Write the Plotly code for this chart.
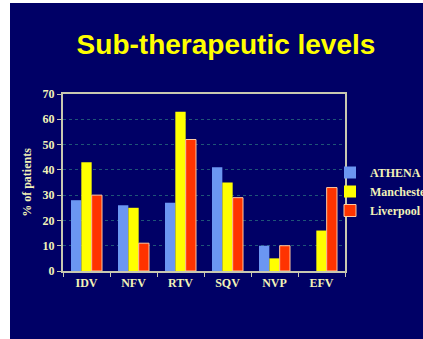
import plotly.graph_objects as go

categories = ["IDV", "NFV", "RTV", "SQV", "NVP", "EFV"]
athena = [28, 26, 27, 41, 10, 0]
manchester = [43, 25, 63, 35, 5, 16]
liverpool = [30, 11, 52, 29, 10, 33]
y_ticks = [0, 10, 20, 30, 40, 50, 60, 70]

W, H = 423, 339
L, R, T, B = 63, 78, 94, 68
pw, ph = W - L - R, H - T - B

def px_x(px):
    return (px - L) / pw

def px_y(py):
    return (H - B - py) / ph

serif = dict(family="Liberation Serif, Times New Roman, serif", color="#f2f2b8", weight="bold")

fig = go.Figure()
fig.add_bar(name="ATHENA", x=categories, y=athena, marker=dict(color="#6b96f2", line=dict(width=0)))
fig.add_bar(name="Manchester", x=categories, y=manchester, marker=dict(color="#ffff00", line=dict(width=0)))
fig.add_bar(name="Liverpool", x=categories, y=liverpool,
            marker=dict(color="#ff3300", line=dict(color="#ffc8a0", width=1)))

fig.add_shape(type="rect", xref="paper", yref="paper", layer="below",
              x0=px_x(10), x1=px_x(W + 5), y0=px_y(H + 5), y1=px_y(3),
              fillcolor="#000066", line=dict(width=0))

fig.update_layout(
    width=W, height=H,
    margin=dict(l=L, r=R, t=T, b=B, autoexpand=False),
    paper_bgcolor="white",
    plot_bgcolor="#000066",
    barmode="group", bargap=0.34, bargroupgap=0,
    showlegend=True,
    title=dict(text="Sub-therapeutic levels", x=226 / W, xanchor="center",
               y=1 - 44 / H, yanchor="middle", xref="container", yref="container",
               font=dict(family="Liberation Sans, Arial, sans-serif", size=28, color="#ffff00", weight="bold")),
    legend=dict(x=px_x(330), y=px_y(158), xanchor="left", yanchor="top",
                bgcolor="rgba(0,0,0,0)", font=dict(size=12, **serif),
                itemwidth=30, tracegroupgap=0),
    xaxis=dict(showline=True, linecolor="#c8c8b0", linewidth=2, mirror=True,
               ticks="outside", tickson="boundaries", ticklen=4, tickcolor="#c8c8b0",
               tickfont=dict(size=12, **serif), showgrid=False),
    yaxis=dict(range=[0, 70], tickvals=y_ticks, showline=True, linecolor="#c8c8b0", linewidth=2,
               mirror=True, ticks="outside", ticklen=4, tickcolor="#c8c8b0",
               tickfont=dict(size=12, **serif), showgrid=True, gridcolor="#1f5577",
               griddash="dot", gridwidth=1, zeroline=False,
               title=dict(text="% of patients", font=dict(size=12, **serif), standoff=8)),
)

fig.write_html("out.html", config={"displayModeBar": False},
               post_script="document.body.style.margin='0';document.body.style.overflow='hidden';")
